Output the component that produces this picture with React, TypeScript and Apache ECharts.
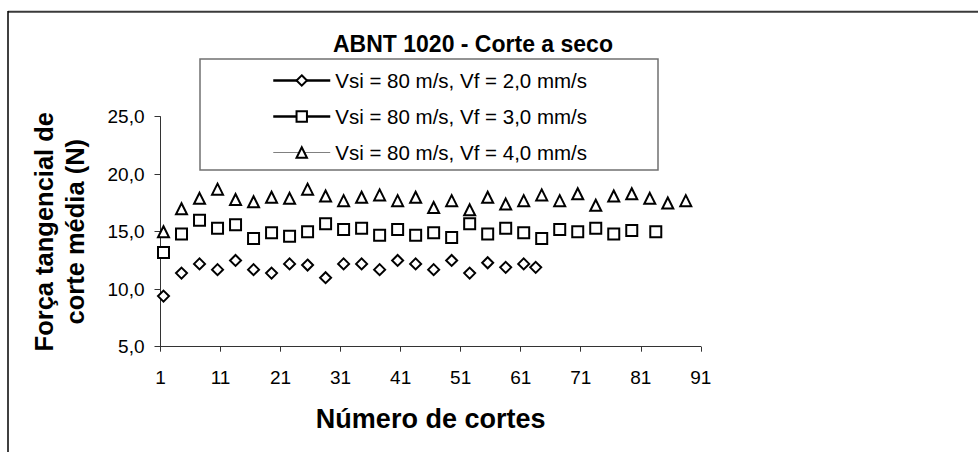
import React, { useEffect, useRef } from "react";
import * as echarts from "echarts";

// Data
const seriesNames = [
  "Vsi = 80 m/s, Vf = 2,0 mm/s",
  "Vsi = 80 m/s, Vf = 3,0 mm/s",
  "Vsi = 80 m/s, Vf = 4,0 mm/s",
];

const cutsA = [1.5, 4.5, 7.5, 10.5, 13.5, 16.5, 19.5, 22.5, 25.5, 28.5, 31.5, 34.5, 37.5, 40.5, 43.5, 46.5, 49.5, 52.5, 55.5, 58.5, 61.5, 63.5];
const forceA = [9.4, 11.4, 12.2, 11.7, 12.5, 11.7, 11.4, 12.2, 12.1, 11.0, 12.2, 12.2, 11.7, 12.5, 12.2, 11.7, 12.5, 11.4, 12.3, 11.9, 12.2, 11.9];

const cutsB = [1.5, 4.5, 7.5, 10.5, 13.5, 16.5, 19.5, 22.5, 25.5, 28.5, 31.5, 34.5, 37.5, 40.5, 43.5, 46.5, 49.5, 52.5, 55.5, 58.5, 61.5, 64.5, 67.5, 70.5, 73.5, 76.5, 79.5, 83.5];
const forceB = [13.2, 14.8, 16.0, 15.3, 15.6, 14.4, 14.9, 14.6, 15.0, 15.7, 15.2, 15.3, 14.7, 15.2, 14.7, 14.9, 14.5, 15.7, 14.8, 15.3, 14.9, 14.4, 15.2, 15.0, 15.3, 14.8, 15.1, 15.0];

const cutsC = [1.5, 4.5, 7.5, 10.5, 13.5, 16.5, 19.5, 22.5, 25.5, 28.5, 31.5, 34.5, 37.5, 40.5, 43.5, 46.5, 49.5, 52.5, 55.5, 58.5, 61.5, 64.5, 67.5, 70.5, 73.5, 76.5, 79.5, 82.5, 85.5, 88.5];
const forceC = [15.0, 17.0, 17.9, 18.7, 17.8, 17.6, 18.0, 17.9, 18.7, 18.1, 17.7, 18.0, 18.2, 17.7, 18.0, 17.1, 17.7, 16.9, 18.0, 17.4, 17.7, 18.2, 17.7, 18.3, 17.3, 18.1, 18.3, 17.9, 17.5, 17.7];

const xTicks = [1, 11, 21, 31, 41, 51, 61, 71, 81, 91];

const FONT = "'Liberation Sans', Arial, sans-serif";

function pairs(xs: number[], ys: number[]) {
  return xs.map((x, i) => [x, ys[i]]);
}

export default function App() {
  const ref = useRef<HTMLDivElement>(null);

  useEffect(() => {
    document.body.style.margin = "0";
    if (!ref.current) return;
    const chart = echarts.init(ref.current, null, { renderer: "svg" });

    const symbols = ["diamond", "rect", "triangle"];
    const datas = [pairs(cutsA, forceA), pairs(cutsB, forceB), pairs(cutsC, forceC)];
    const legendLines = [
      { width: 2.5, color: "#000" },
      { width: 2.5, color: "#000" },
      { width: 1, color: "#808080" },
    ];

    chart.setOption({
      animation: false,
      backgroundColor: "#ffffff",
      title: {
        text: "ABNT 1020 - Corte a seco",
        left: 333,
        top: 32.5,
        padding: 0,
        textStyle: { fontFamily: FONT, fontSize: 23, fontWeight: "bold", color: "#000" },
      },
      legend: {
        orient: "vertical",
        left: 272,
        top: 70,
        padding: 0,
        itemWidth: 57,
        itemHeight: 13,
        itemGap: 15,
        textStyle: { fontFamily: FONT, fontSize: 20.5, color: "#000", lineHeight: 20 },
        data: seriesNames.map((name, i) => ({
          name,
          itemStyle: { opacity: 1, color: "#fff", borderColor: "#000", borderWidth: 2 },
          lineStyle: { opacity: 1, width: legendLines[i].width, color: legendLines[i].color },
        })),
      },
      grid: {
        left: 160.5,
        right: 978 - 700.8,
        top: 116.7,
        bottom: 452 - 346.7,
        containLabel: false,
      },
      xAxis: {
        type: "value",
        min: 1,
        max: 91,
        name: "Número de cortes",
        nameLocation: "middle",
        nameGap: 59,
        nameTextStyle: { fontFamily: FONT, fontSize: 27, fontWeight: "bold", color: "#000" },
        axisLine: { show: true, onZero: false, lineStyle: { color: "#333", width: 1 } },
        axisTick: { show: true, length: 5, inside: false, customValues: xTicks, lineStyle: { color: "#333" } },
        axisLabel: {
          customValues: xTicks,
          margin: 21,
          fontFamily: FONT,
          fontSize: 19,
          color: "#000",
        },
        splitLine: { show: false },
      },
      yAxis: {
        type: "value",
        min: 5,
        max: 25,
        interval: 5,
        name: "Força tangencial de\ncorte média (N)",
        nameLocation: "middle",
        nameRotate: 90,
        nameGap: 70,
        nameTextStyle: { fontFamily: FONT, fontSize: 25.5, fontWeight: "bold", color: "#000", lineHeight: 31 },
        axisLine: { show: true, lineStyle: { color: "#333", width: 1 } },
        axisTick: { show: true, length: 6, inside: false, lineStyle: { color: "#333" } },
        axisLabel: {
          margin: 16,
          fontFamily: FONT,
          fontSize: 19,
          color: "#000",
          formatter: (v: number) => v.toFixed(1).replace(".", ","),
        },
        splitLine: { show: false },
      },
      graphic: [
        {
          type: "rect",
          shape: { x: 200, y: 59, width: 458, height: 111 },
          style: { fill: "none", stroke: "#707070", lineWidth: 1.5 },
          z: 1,
        },
        {
          type: "line",
          shape: { x1: 8, y1: 11.7, x2: 978, y2: 11.7 },
          style: { stroke: "#3a3a3a", lineWidth: 2 },
        },
        {
          type: "line",
          shape: { x1: 8, y1: 11, x2: 8, y2: 452 },
          style: { stroke: "#000", lineWidth: 1.5 },
        },
      ],
      series: seriesNames.map((name, i) => ({
        name,
        type: "line",
        data: datas[i],
        symbol: symbols[i],
        symbolSize: 11,
        showSymbol: true,
        showAllSymbol: true,
        lineStyle: { opacity: 0 },
        itemStyle: { color: "#fff", borderColor: "#000", borderWidth: 2 },
        emphasis: { disabled: true },
        z: 3,
      })),
    });

    return () => {
      chart.dispose();
    };
  }, []);

  return <div ref={ref} style={{ width: 978, height: 452 }} />;
}
